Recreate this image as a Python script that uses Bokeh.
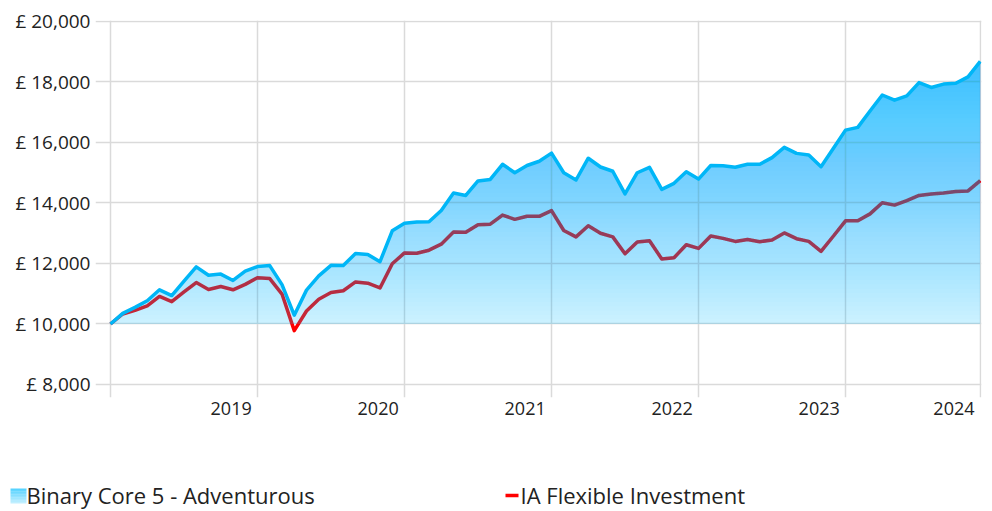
from bokeh.plotting import figure
from bokeh.models import Range1d, FixedTicker
from bokeh.layouts import column
from bokeh.embed import file_html
from bokeh.resources import INLINE
from bokeh.core.properties import value

# ---- data (monthly, Jan 2018 .. Dec 2023, growth of £10,000) ----
month_index = list(range(72))
binary_core5 = [
    10000, 10350, 10550, 10770, 11130, 10940, 11420, 11890, 11610, 11650, 11440, 11750,
    11900, 11930, 11300, 10290, 11120, 11590, 11940, 11930, 12330, 12300, 12060, 13080,
    13330, 13370, 13380, 13750, 14330, 14250, 14730, 14780, 15280, 15000, 15240, 15380,
    15650, 15000, 14760, 15480, 15190, 15050, 14300, 15000, 15180, 14450, 14650, 15030,
    14790, 15240, 15230, 15180, 15280, 15280, 15500, 15840, 15640, 15590, 15200, 15800,
    16410, 16500, 17040, 17570, 17400, 17540, 17980, 17820, 17930, 17960, 18170, 18680,
]
ia_flexible = [
    10000, 10330, 10450, 10600, 10910, 10740, 11060, 11370, 11140, 11240, 11130, 11310,
    11530, 11500, 10990, 9780, 10430, 10820, 11040, 11100, 11390, 11350, 11190, 11990,
    12350, 12340, 12440, 12640, 13040, 13030, 13280, 13300, 13600, 13460, 13560, 13560,
    13750, 13090, 12880, 13250, 13000, 12880, 12320, 12710, 12750, 12150, 12190, 12620,
    12500, 12910, 12830, 12730, 12790, 12720, 12780, 13010, 12820, 12730, 12400, 12900,
    13410, 13410, 13640, 14010, 13930, 14080, 14250, 14300, 14330, 14380, 14400, 14740,
]
threshold = 10000
series_names = ["Binary Core 5 - Adventurous", "IA Flexible Investment"]
year_ticks = [0, 12, 24, 36, 48, 60, 71]
year_labels = ["", "2019", "2020", "2021", "2022", "2023", "2024"]
y_ticks = [8000, 10000, 12000, 14000, 16000, 18000, 20000]
y_labels = ["£ 8,000", "£ 10,000", "£ 12,000", "£ 14,000", "£ 16,000", "£ 18,000", "£ 20,000"]

FONT = "Open Sans"
TEXT = "#222222"
GRID = "#dadada"
BLUE_LINE = "#00b6f7"
RED = "#ff0000"
FILL_RGB = (0, 188, 255)

p = figure(width=992, height=428,
           x_range=Range1d(-1.224, 71.1), y_range=Range1d(7570, 20033),
           output_backend="svg", toolbar_location=None, frame_align=False,
           min_border_left=95, min_border_right=11, min_border_top=20, min_border_bottom=31)
p.outline_line_color = None
p.background_fill_color = "white"

# grids
p.xgrid.ticker = FixedTicker(ticks=year_ticks)
p.ygrid.ticker = FixedTicker(ticks=y_ticks)
p.grid.grid_line_color = GRID
p.grid.grid_line_width = 1.5

# axes (year labels sit just left of their gridline)
label_shift = 2.15
p.xaxis.ticker = FixedTicker(ticks=[t - label_shift for t in year_ticks[1:]])
p.xaxis.major_label_overrides = {t - label_shift: l for t, l in zip(year_ticks[1:], year_labels[1:])}
p.yaxis.ticker = FixedTicker(ticks=y_ticks)
p.yaxis.major_label_overrides = dict(zip(y_ticks, y_labels))
for ax in (p.xaxis, p.yaxis):
    ax.axis_line_color = None
    ax.major_tick_line_color = None
    ax.minor_tick_line_color = None
    ax.major_tick_out = 0
    ax.major_tick_in = 0
    ax.major_label_text_font = FONT
    ax.major_label_text_color = TEXT
p.xaxis.major_label_text_font_size = "18px"
p.yaxis.major_label_text_font_size = "19px"
p.xaxis.major_label_standoff = 4
p.yaxis.major_label_standoff = 5

# IA Flexible line (drawn beneath the translucent area)
p.line(month_index, ia_flexible, line_color=RED, line_width=3.5, line_join="round")


def clip_above(xs, ys, level):
    px, py = [], []
    for i in range(len(xs)):
        if i > 0:
            y0, y1 = ys[i - 1], ys[i]
            if (y0 - level) * (y1 - level) < 0:
                t = (level - y0) / (y1 - y0)
                px.append(xs[i - 1] + t * (xs[i] - xs[i - 1]))
                py.append(level)
        px.append(xs[i])
        py.append(max(ys[i], level))
    return px, py


# gradient area fill for Binary Core 5 (layered translucent bands)
top = max(binary_core5)
n_layers = 60
a_bot, a_top = 0.2, 0.72
prev = 0.0
for k in range(n_layers):
    lvl = threshold + k * (top - threshold) / n_layers
    A = a_bot + (a_top - a_bot) * (k + 0.5) / n_layers
    a = 1 - (1 - A) / (1 - prev)
    prev = A
    px, py = clip_above(month_index, binary_core5, lvl)
    p.varea(x=px, y1=lvl, y2=py, fill_color=FILL_RGB, fill_alpha=a)

p.line(month_index, binary_core5, line_color=BLUE_LINE, line_width=3.5, line_join="round")

# ---- legend strip (pixel coordinates, y downward) ----
leg = figure(width=992, height=83, x_range=Range1d(0, 992), y_range=Range1d(83, 0),
             output_backend="svg", toolbar_location=None, frame_align=False, min_border=0,
             x_axis_type=None, y_axis_type=None)
leg.outline_line_color = None
leg.grid.visible = False

# gradient square swatch
n_icon = 10
i_top, i_bot = 60.0, 75.0
for k in range(n_icon):
    t0 = i_top + (i_bot - i_top) * k / n_icon
    t1 = i_top + (i_bot - i_top) * (k + 1) / n_icon
    alpha = 0.68 - (0.68 - 0.22) * (k + 0.5) / n_icon
    leg.quad(left=10, right=26, top=t0, bottom=t1, fill_color=FILL_RGB, fill_alpha=alpha, line_color=None)
# red line swatch
leg.segment(x0=505, y0=67, x1=518, y1=67, line_color=RED, line_width=3.5)
leg.text(x=[26, 520], y=[66, 66], text=series_names, text_font=value(FONT),
         text_font_size="22px", text_baseline="middle", text_color=TEXT)

layout = column(p, leg, spacing=0)
open("out.html", "w").write(file_html(layout, INLINE))
